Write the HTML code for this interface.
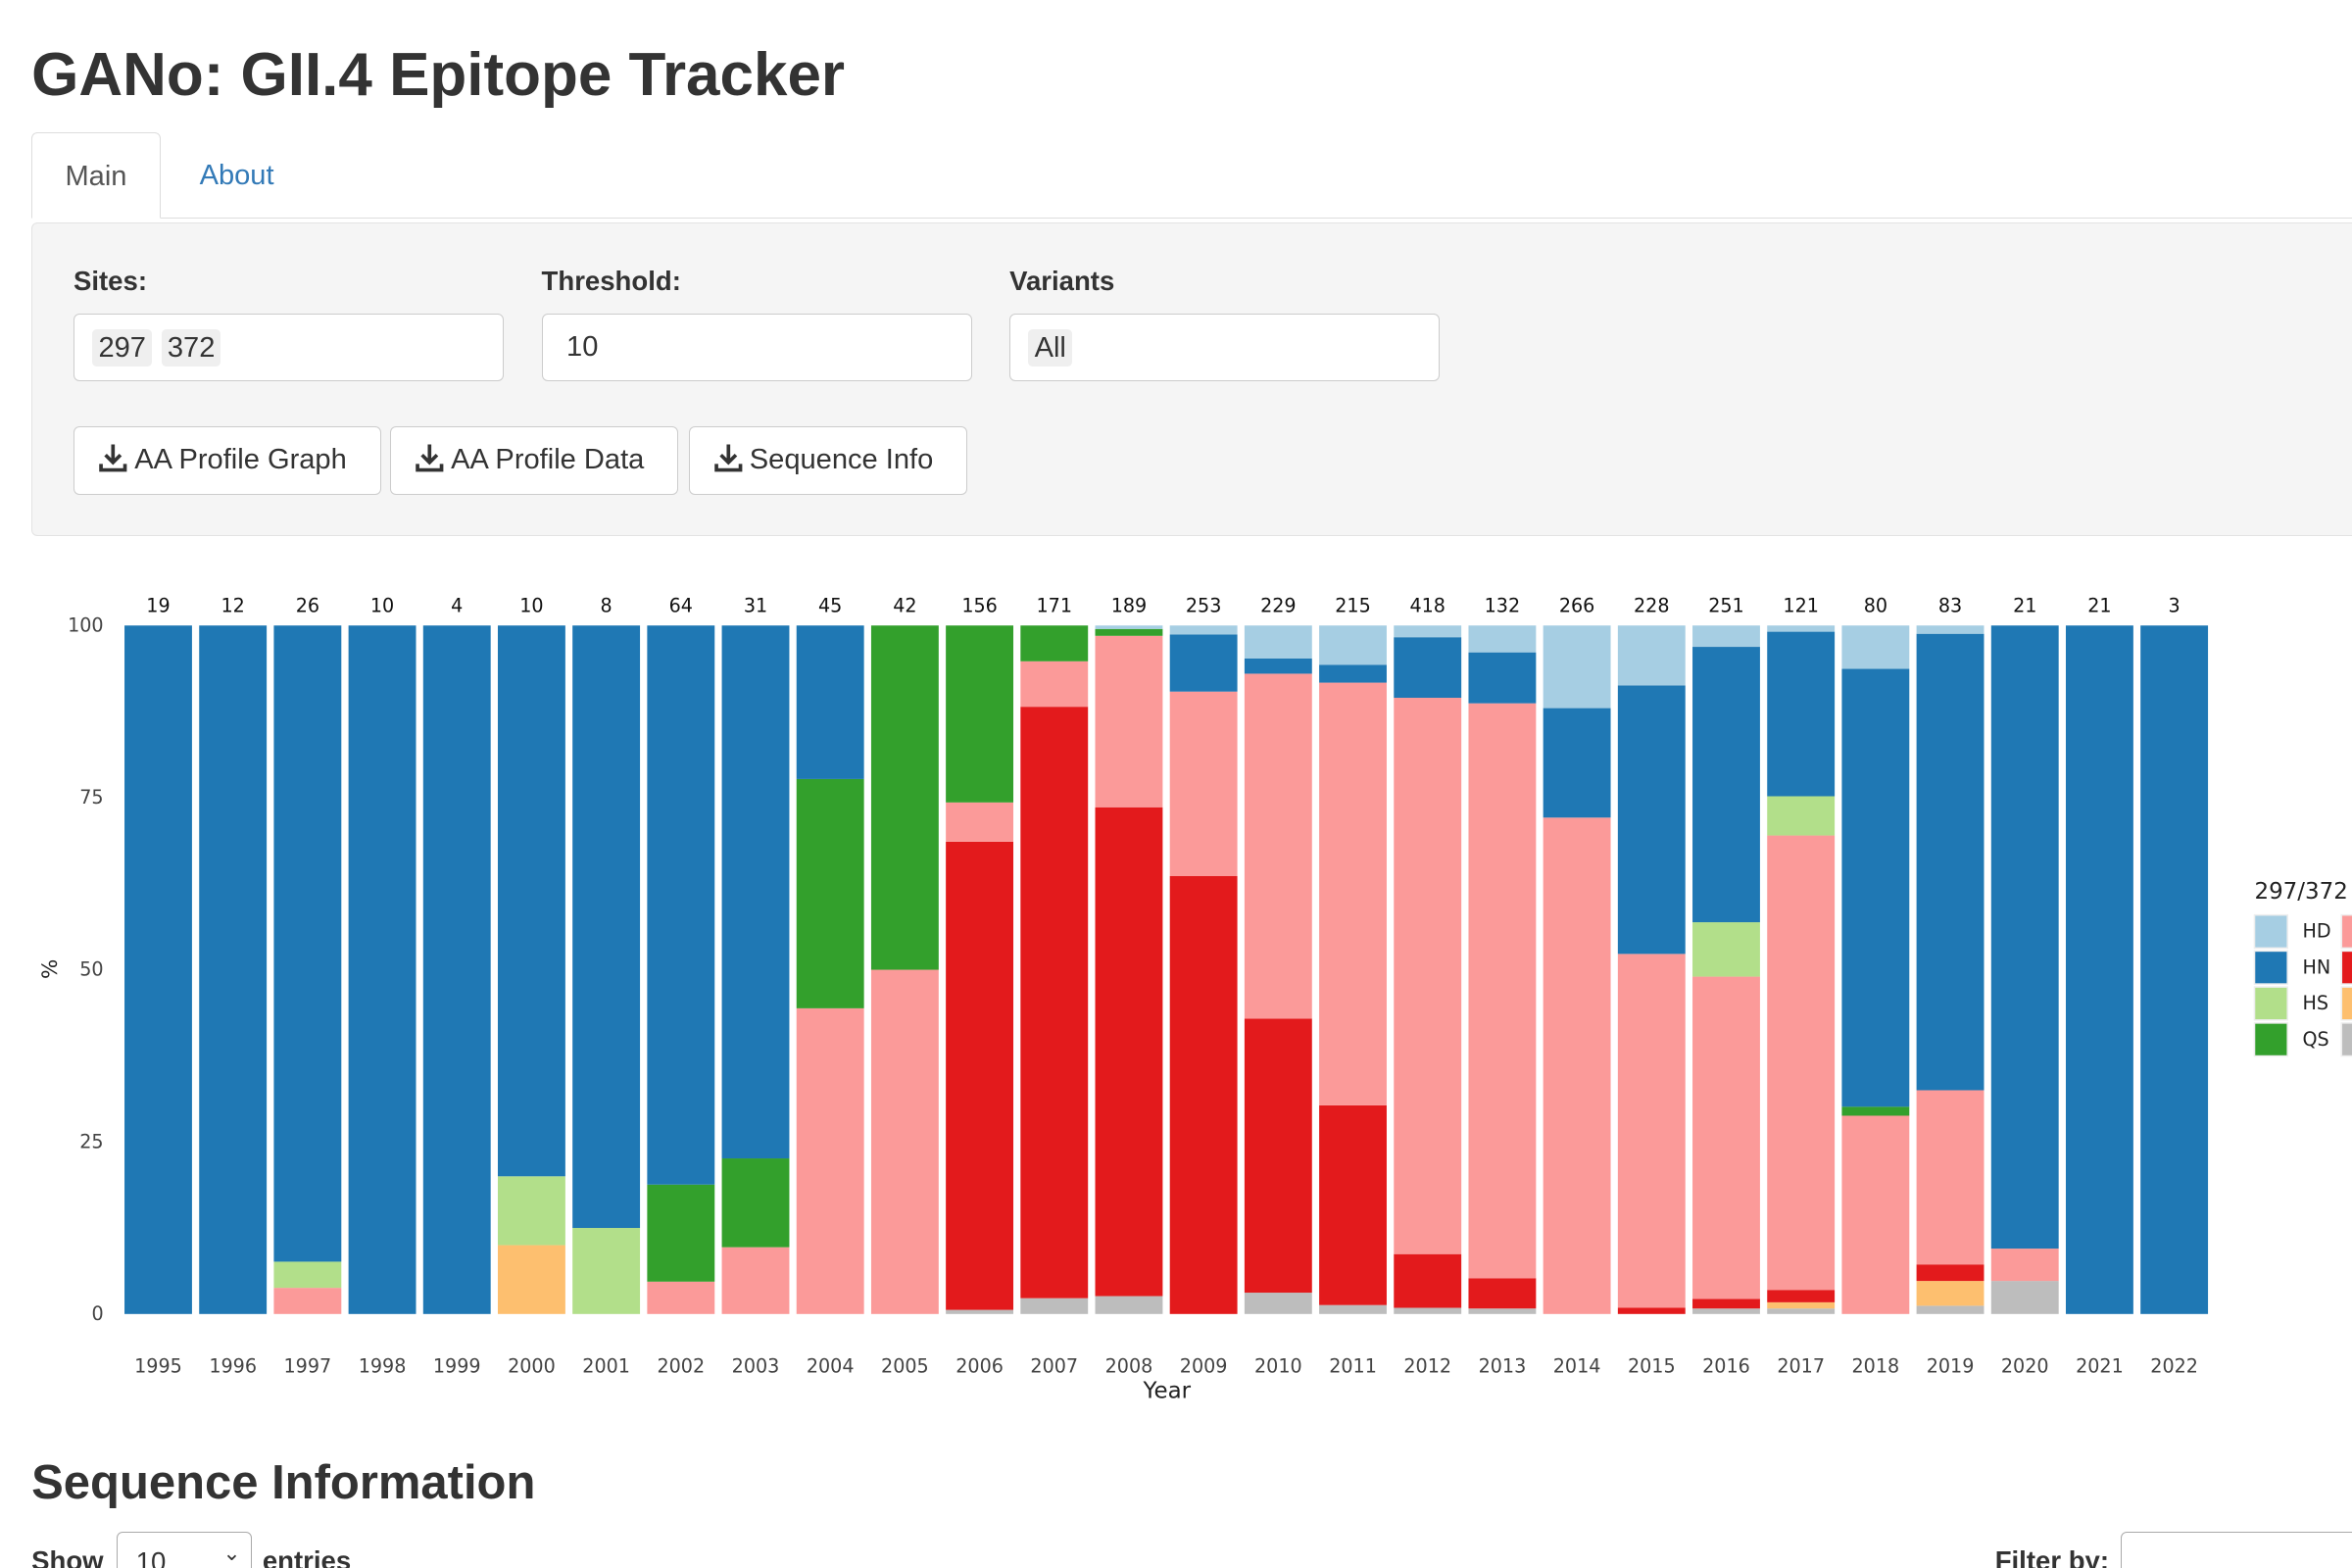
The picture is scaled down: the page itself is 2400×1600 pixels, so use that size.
<!DOCTYPE html>
<html><head><meta charset="utf-8">
<style>
html,body{margin:0;padding:0;background:#fff;overflow:hidden}
body{zoom:1.530612;width:1568px;height:1045px;position:relative;font-family:"Liberation Sans",Arial,sans-serif;color:#333}
.abs{position:absolute}
h1{position:absolute;left:21px;top:27px;margin:0;font-size:40.5px;font-weight:600;letter-spacing:0}
.tab{position:absolute;top:88px;height:58px;font-size:19px;line-height:58px}
.tabline{position:absolute;left:21px;right:0;top:145px;border-top:1px solid #ddd}
.well{position:absolute;left:21px;top:148px;width:1560px;height:208px;background:#f5f5f5;border:1px solid #e3e3e3;border-radius:4px}
.lbl{position:absolute;top:177px;font-size:18px;font-weight:bold;color:#333}
.inp{position:absolute;top:209px;width:287px;height:45px;background:#fff;border:1px solid #ccc;border-radius:4px;box-sizing:border-box;font-size:19px}
.chip{position:absolute;top:10px;height:25px;line-height:25px;padding:0 4px;background:#efefef;border-radius:3px}
.btn{position:absolute;top:284px;height:46px;background:#fff;border:1px solid #ccc;border-radius:4px;box-sizing:border-box;font-size:19px;line-height:44px;padding-left:16px;color:#333}
.btn svg{vertical-align:-3px;margin-right:4px}
</style></head>
<body>
<h1>GANo: GII.4 Epitope Tracker</h1>
<div class="tab" style="left:21px;width:86px;border:1px solid #ddd;border-bottom:1px solid #fff;border-radius:4px 4px 0 0;box-sizing:border-box;text-align:center;background:#fff;z-index:2;color:#555">Main</div>
<div class="tab" style="left:133px;color:#337ab7">About</div>
<div class="tabline"></div>
<div class="well"></div>
<div class="lbl" style="left:49px">Sites:</div>
<div class="lbl" style="left:361px">Threshold:</div>
<div class="lbl" style="left:673px">Variants</div>
<div class="inp" style="left:49px"><span class="chip" style="left:12px">297</span><span class="chip" style="left:58px">372</span></div>
<div class="inp" style="left:361px;padding:11px 0 0 16px">10</div>
<div class="inp" style="left:673px"><span class="chip" style="left:12px">All</span></div>
<div class="btn" style="left:49px;width:205px"><svg width="20" height="20" viewBox="0 0 20 20"><path d="M10 1v11M5 8l5 5 5-5M2 14v4h16v-4" stroke="#333" stroke-width="2.4" fill="none"/></svg>AA Profile Graph</div>
<div class="btn" style="left:260px;width:192px"><svg width="20" height="20" viewBox="0 0 20 20"><path d="M10 1v11M5 8l5 5 5-5M2 14v4h16v-4" stroke="#333" stroke-width="2.4" fill="none"/></svg>AA Profile Data</div>
<div class="btn" style="left:459px;width:186px"><svg width="20" height="20" viewBox="0 0 20 20"><path d="M10 1v11M5 8l5 5 5-5M2 14v4h16v-4" stroke="#333" stroke-width="2.4" fill="none"/></svg>Sequence Info</div>

<svg id="chart" class="abs" style="left:0;top:0" width="1568" height="960" font-family="DejaVu Sans, sans-serif"></svg>

<div class="abs" style="left:21px;top:970px;font-size:32px;font-weight:600">Sequence Information</div>
<div class="abs" style="left:21px;top:1030px;font-size:18px;font-weight:bold">Show</div>
<div class="abs" style="left:78px;top:1021px;width:90px;height:40px;border:1px solid #aaa;border-radius:4px;font-size:18px;padding:9px 0 0 12px;box-sizing:border-box">10<span style="position:absolute;left:70px;top:6px;font-size:14px">&#8964;</span></div>
<div class="abs" style="left:175px;top:1030px;font-size:18px;font-weight:bold">entries</div>
<div class="abs" style="left:1330px;top:1030px;font-size:18px;font-weight:bold">Filter by:</div>
<div class="abs" style="left:1414px;top:1021px;width:200px;height:40px;border:1px solid #aaa;border-radius:4px"></div>

<script>
const years=[1995,1996,1997,1998,1999,2000,2001,2002,2003,2004,2005,2006,2007,2008,2009,2010,2011,2012,2013,2014,2015,2016,2017,2018,2019,2020,2021,2022];
const counts=[19,12,26,10,4,10,8,64,31,45,42,156,171,189,253,229,215,418,132,266,228,251,121,80,83,21,21,3];
const categories=["Other","Orange","Red","Pink","QS","HS","HN","HD"];
const colors=["#bdbdbd","#fdbf6f","#e31a1c","#fb9a99","#33a02c","#b2df8a","#1f78b4","#a6cee3"];
const sOther=[0,0,0,0,0,0,0,0,0,0,0,0.6,2.3,2.6,0,3.1,1.3,0.9,0.8,0,0,0.8,0.8,0,1.2,4.8,0,0];
const sOrange=[0,0,0,0,0,10,0,0,0,0,0,0,0,0,0,0,0,0,0,0,0,0,0.9,0,3.6,0,0,0];
const sRed=[0,0,0,0,0,0,0,0,0,0,0,68,85.9,71,63.6,39.8,29,7.8,4.4,0,0.9,1.4,1.8,0,2.4,0,0,0];
const sPink=[0,0,3.8,0,0,0,0,4.7,9.7,44.4,50,5.7,6.6,24.9,26.8,50.1,61.4,80.8,83.5,72.1,51.4,46.8,66,28.8,25.3,4.7,0,0];
const sQS=[0,0,0,0,0,0,0,14.1,12.9,33.3,50,25.7,5.2,1.0,0,0,0,0,0,0,0,0,0,1.3,0,0,0,0];
const sHS=[0,0,3.8,0,0,10,12.5,0,0,0,0,0,0,0,0,0,0,0,0,0,0,7.9,5.7,0,0,0,0,0];
const sHN=[100,100,92.4,100,100,80,87.5,81.2,77.4,22.3,0,0,0,0,8.3,2.2,2.6,8.8,7.4,15.9,39,40,23.9,63.6,66.3,90.5,100,100];
const sHD=[0,0,0,0,0,0,0,0,0,0,0,0,0,0.5,1.3,4.8,5.7,1.7,3.9,12,8.7,3.1,0.9,6.3,1.2,0,0,0];
const series=[sOther,sOrange,sRed,sPink,sQS,sHS,sHN,sHD];
const yTicks=[0,25,50,75,100];

const NS="http://www.w3.org/2000/svg";
const svg=document.getElementById('chart');
const X0=83,XEND=1472,Y0=876,Y100=417,BW=45;
const step=(XEND-X0-BW)/(years.length-1), bw=BW;
const xPos=i=>X0+i*step;
const yPos=v=>Y0-(Y0-Y100)*v/100;
function mk(tag,attrs,txt){const e=document.createElementNS(NS,tag);for(const k in attrs)e.setAttribute(k,attrs[k]);if(txt!==undefined)e.textContent=txt;svg.appendChild(e);return e;}

years.forEach((yr,i)=>{
  let cum=0;
  series.forEach((s,c)=>{
    const v=s[i]; if(v<=0) return;
    const r=mk('rect',{x:xPos(i),y:yPos(cum+v),width:bw,height:yPos(cum)-yPos(cum+v),fill:colors[c]});
    
    
    cum+=v;
  });
  const t=mk('text',{x:xPos(i)+bw/2,y:408,'font-size':12.5,'text-anchor':'middle',fill:'#111'},counts[i]);
  
  
  const xl=mk('text',{x:xPos(i)+bw/2,y:915,'font-size':12.5,'text-anchor':'middle',fill:'#444'},yr);
  
  
});
yTicks.forEach(v=>{
  const t=mk('text',{x:69,y:yPos(v)+4,'font-size':12.5,'text-anchor':'end',fill:'#444'},v);
  
  
});
const xt=mk('text',{x:778,y:932,'font-size':15,'text-anchor':'middle',fill:'#222'},'Year');


const yt=mk('text',{x:38,y:646,'font-size':14,'text-anchor':'middle',fill:'#222',transform:'rotate(-90 38 646)'},'%');


const lt=mk('text',{x:1503,y:599,'font-size':15,fill:'#222'},'297/372');


const legLeft=[["HD","#a6cee3"],["HN","#1f78b4"],["HS","#b2df8a"],["QS","#33a02c"]];
const legRight=["#fb9a99","#e31a1c","#fdbf6f","#bdbdbd"];
legLeft.forEach((l,k)=>{
  const y=610+k*24;
  const r=mk('rect',{x:1503,y:y,width:22,height:22,fill:l[1],stroke:'#eee','stroke-width':1});
  
  
  const t=mk('text',{x:1535,y:y+15,'font-size':12.5,fill:'#222'},l[0]);
  
  
  const r2=mk('rect',{x:1561,y:y,width:22,height:22,fill:legRight[k],stroke:'#eee','stroke-width':1});
  
  
});
</script>
</body></html>
